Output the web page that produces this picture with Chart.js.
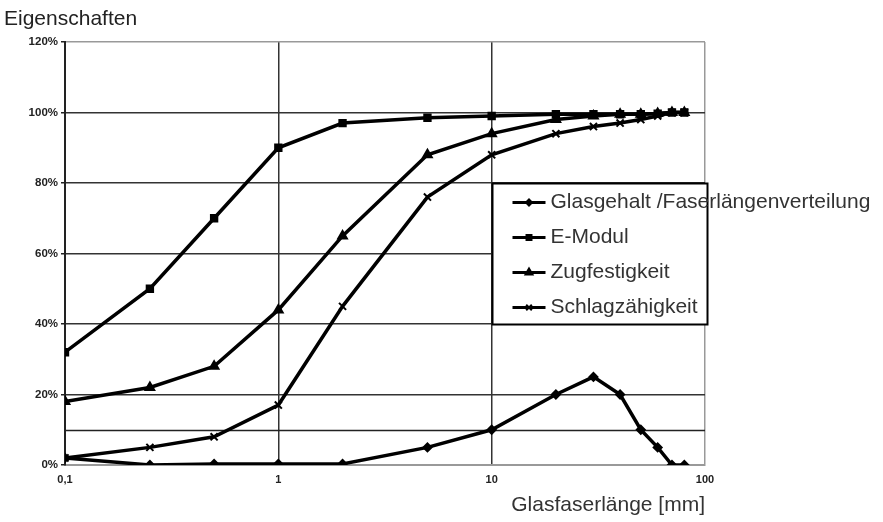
<!DOCTYPE html>
<html>
<head>
<meta charset="utf-8">
<script src="https://cdn.jsdelivr.net/npm/chart.js@4.4.1/dist/chart.umd.min.js"></script>
<style>
  html, body { margin: 0; padding: 0; background: #fff; }
  #wrap { width: 883px; height: 522px; }
</style>
</head>
<body>
<div id="wrap"><canvas id="chart" width="883" height="522"></canvas></div>
<script>
// Glasfaserlänge [mm]
var laengen = [0.1, 0.25, 0.5, 1, 2, 5, 10, 20, 30, 40, 50, 60, 70, 80];
var glasgehalt = [2, 0, 0.3, 0.3, 0.3, 5, 10, 20, 25, 20, 10, 5, 0, 0];
var eModul = [32, 50, 70, 90, 97, 98.5, 99, 99.5, 99.5, 99.5, 99.5, 99.7, 100, 100];
var zugfestigkeit = [18, 22, 28, 44, 65, 88, 94, 98, 99, 99.5, 99.5, 99.7, 100, 100];
var schlagzaehigkeit = [2, 5, 8, 17, 45, 76, 88, 94, 96, 97, 98, 99, 100, 100];
var xTicks = [0.1, 1, 10, 100];
var yTicks = [0, 20, 40, 60, 80, 100, 120];
var hilfslinie = 10;

var serien = [
    { label: 'Glasgehalt /Faserlängenverteilung', data: glasgehalt, style: 'rectRot', r: 4 },
    { label: 'E-Modul', data: eModul, style: 'rect', r: 4.5 },
    { label: 'Zugfestigkeit', data: zugfestigkeit, style: 'triangle', r: 5 },
    { label: 'Schlagzähigkeit', data: schlagzaehigkeit, style: 'crossRot', r: 5 }
];

function punkte(werte) {
    return werte.map(function (v, i) { return { x: laengen[i], y: v }; });
}

var FONT = '"Liberation Sans", Arial, sans-serif';

var extras = {
    id: 'extras',
    beforeDatasetsDraw: function (chart) {
        var ctx = chart.ctx, a = chart.chartArea, y = chart.scales.y;
        ctx.save();
        ctx.strokeStyle = '#222';
        ctx.lineWidth = 1.5;
        var yy = Math.round(y.getPixelForValue(hilfslinie)) + 0.5;
        ctx.beginPath();
        ctx.moveTo(a.left, yy);
        ctx.lineTo(a.right, yy);
        ctx.stroke();
        ctx.restore();
    },
    afterDraw: function (chart) {
        var ctx = chart.ctx, a = chart.chartArea, x = chart.scales.x, y = chart.scales.y;
        ctx.save();
        // Titel
        ctx.fillStyle = '#222';
        ctx.font = '21px ' + FONT;
        ctx.textBaseline = 'middle';
        ctx.textAlign = 'left';
        ctx.fillText('Eigenschaften', 4, 19);

        // Legende im Diagramm
        var bl = Math.round(x.getPixelForValue(10)) + 0.5;
        var bt = Math.round(y.getPixelForValue(80)) + 0.5;
        var bb = Math.round(y.getPixelForValue(40)) + 0.5;
        var br = a.right + 2.5;
        ctx.fillStyle = '#fff';
        ctx.fillRect(bl, bt, br - bl, bb - bt);
        ctx.strokeStyle = '#000';
        ctx.lineWidth = 2;
        ctx.strokeRect(bl, bt, br - bl, bb - bt);

        chart.data.datasets.forEach(function (ds, i) {
            var cy = bt + 19 + i * 35;
            var x0 = bl + 20, x1 = bl + 53;
            ctx.strokeStyle = '#000';
            ctx.fillStyle = '#000';
            ctx.lineWidth = 3;
            ctx.beginPath();
            ctx.moveTo(x0, cy);
            ctx.lineTo(x1, cy);
            ctx.stroke();
            ctx.lineWidth = 2;
            Chart.helpers.drawPoint(ctx, {
                pointStyle: ds.pointStyle,
                radius: ds.pointRadius - 1,
                borderWidth: 2,
                rotation: 0
            }, (x0 + x1) / 2, cy);
            ctx.fillStyle = '#333';
            ctx.font = '21px ' + FONT;
            ctx.textBaseline = 'middle';
            ctx.textAlign = 'left';
            ctx.fillText(ds.label, x1 + 5, cy);
        });
        ctx.restore();
    }
};

new Chart(document.getElementById('chart').getContext('2d'), {
    type: 'line',
    data: {
        datasets: serien.map(function (s) {
            return {
                label: s.label,
                data: punkte(s.data),
                borderColor: '#000',
                backgroundColor: '#000',
                borderWidth: 3.5,
                pointStyle: s.style,
                pointRadius: s.r,
                pointBorderWidth: 2,
                pointBorderColor: '#000',
                pointBackgroundColor: '#000',
                tension: 0
            };
        })
    },
    options: {
        responsive: false,
        animation: false,
        layout: { padding: { left: 0, top: 42, right: 178, bottom: 0 } },
        plugins: {
            legend: { display: false },
            tooltip: { enabled: false }
        },
        scales: {
            x: {
                type: 'logarithmic',
                min: 0.1,
                max: 100,
                afterBuildTicks: function (scale) {
                    scale.ticks = xTicks.map(function (v) { return { value: v }; });
                },
                afterFit: function (scale) { scale.height = 57; },
                ticks: {
                    autoSkip: false,
                    maxRotation: 0,
                    padding: 8,
                    color: '#222',
                    font: { family: FONT, size: 11, weight: 'bold' },
                    callback: function (v) { return String(v).replace('.', ','); }
                },
                grid: {
                    color: function (c) { return c.tick && c.tick.value === 100 ? '#999' : '#333'; },
                    lineWidth: 1.5,
                    tickLength: 0,
                    drawTicks: false
                },
                border: { color: '#999', width: 2 },
                title: {
                    display: true,
                    text: 'Glasfaserlänge [mm]',
                    align: 'end',
                    color: '#333',
                    font: { family: FONT, size: 21 },
                    padding: { top: 0, bottom: 4 }
                }
            },
            y: {
                min: 0,
                max: 120,
                afterBuildTicks: function (scale) {
                    scale.ticks = yTicks.map(function (v) { return { value: v }; });
                },
                afterFit: function (scale) { scale.width = 65; },
                ticks: {
                    padding: 3,
                    color: '#222',
                    font: { family: FONT, size: 11.5, weight: 'bold' },
                    callback: function (v) { return v + '%'; }
                },
                grid: {
                    color: function (c) { return c.tick && c.tick.value === 120 ? '#999' : '#333'; },
                    lineWidth: 1.5,
                    tickLength: 4,
                    tickColor: '#222'
                },
                border: { color: '#222', width: 2 }
            }
        }
    },
    plugins: [extras]
});
</script>
</body>
</html>
